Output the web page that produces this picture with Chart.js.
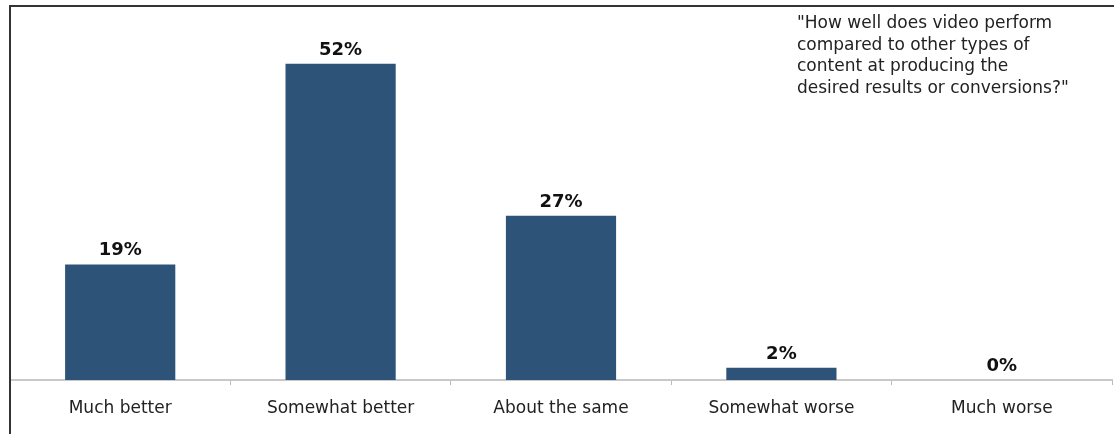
<!DOCTYPE html>
<html>
<head>
<meta charset="utf-8">
<script src="https://cdn.jsdelivr.net/npm/chart.js@4"></script>
<style>
  html, body { margin: 0; padding: 0; background: #fff; }
  #wrap { position: relative; width: 1115px; height: 434px; }
</style>
</head>
<body>
<div id="wrap"><canvas id="c" width="1115" height="434"></canvas></div>
<script>
const categories = ["Much better", "Somewhat better", "About the same", "Somewhat worse", "Much worse"];
const values = [19, 52, 27, 2, 0];
const valueLabels = ["19%", "52%", "27%", "2%", "0%"];
const questionLines = [
  "\"How well does video perform",
  "compared to other types of",
  "content at producing the",
  "desired results or conversions?\""
];

const decor = {
  id: 'decor',
  afterDatasetsDraw(chart) {
    const ctx = chart.ctx;
    const meta = chart.getDatasetMeta(0);
    ctx.save();
    ctx.fillStyle = '#111';
    ctx.font = 'bold 18px "DejaVu Sans", Verdana, sans-serif';
    ctx.textAlign = 'center';
    ctx.textBaseline = 'alphabetic';
    meta.data.forEach((bar, i) => {
      ctx.fillText(valueLabels[i], bar.x, bar.y - 9);
    });
    ctx.restore();
  },
  afterDraw(chart) {
    const ctx = chart.ctx;
    const a = chart.chartArea;
    ctx.save();
    ctx.strokeStyle = '#333';
    ctx.lineWidth = 2;
    ctx.beginPath();
    ctx.moveTo(a.left, 434);
    ctx.lineTo(a.left, 6);
    ctx.lineTo(1114, 6);
    ctx.stroke();
    ctx.fillStyle = '#222';
    ctx.font = '17px "DejaVu Sans", Verdana, sans-serif';
    ctx.textAlign = 'left';
    ctx.textBaseline = 'alphabetic';
    questionLines.forEach((t, i) => {
      ctx.fillText(t, 797, 28 + i * 21.5);
    });
    ctx.restore();
  }
};

new Chart(document.getElementById('c'), {
  type: 'bar',
  data: {
    labels: categories,
    datasets: [{
      data: values,
      backgroundColor: '#2e5378',
      barPercentage: 0.5,
      categoryPercentage: 1.0
    }]
  },
  options: {
    responsive: false,
    animation: false,
    events: [],
    layout: { padding: { left: 10, right: 3, top: 15, bottom: 0 } },
    plugins: { legend: { display: false }, tooltip: { enabled: false }, title: { display: false } },
    scales: {
      y: { display: false, min: 0, max: 60 },
      x: {
        afterFit(scale) { scale.height = 54; },
        grid: { display: true, drawOnChartArea: false, drawTicks: true, tickLength: 5, color: '#bbb', offset: true },
        border: { display: true, color: '#c8c8c8', width: 2 },
        ticks: { color: '#222', font: { family: '"DejaVu Sans", Verdana, sans-serif', size: 17 }, padding: 13 }
      }
    }
  },
  plugins: [decor]
});
</script>
</body>
</html>
